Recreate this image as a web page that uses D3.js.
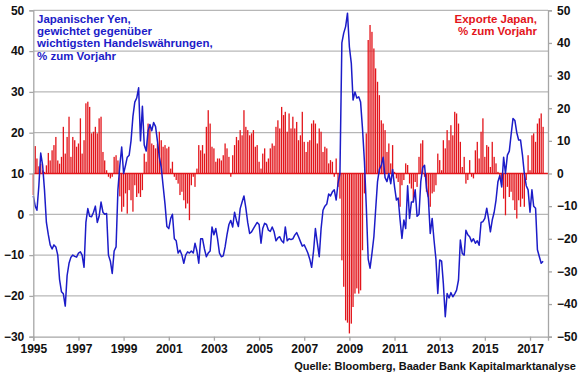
<!DOCTYPE html>
<html>
<head>
<meta charset="utf-8">
<script src="https://cdn.jsdelivr.net/npm/d3@7"></script>
<style>
  body { margin: 0; background: #fff; }
  text { font-family: "Liberation Sans", Arial, sans-serif; font-weight: bold; }
</style>
</head>
<body>
<script>
// first month of both series
var startYear = 1995;

// Japanese yen, trade weighted, % yoy (left axis), monthly
var yenYoY = [
  4.5, 2, 1, 7, 15, 12, 6, -2, -5, -7.5, -8.5, -7.5,
  -8, -10, -16, -19, -19.5, -22.5, -15, -12, -10.5, -10, -10.3, -10.5,
  -9.5, -9.2, -10, -13, -2, 1.4, -0.5, -0.6, 0.5, 2, -2, -0.5,
  3, 0.5, 0, 0.2, -10, -11.5, -14.5, -9, -8, 6, 12, 16.5,
  10, 12, 14, 14.5, 18, 24, 27.5, 28.5, 31, 18, 26.5, 17,
  15.5, 20.5, 22, 20.5, 22.5, 21.5, 18, 14, 11.5, 7, 2.5, -3,
  -3.5, -1, 0, -6, -6.5, -9.5, -8.8, -10, -12, -10, -9.2, -9.5,
  -9, -9.5, -7.1, -9, -12, -6, -6, -8.5, -10.4, -9.5, -9, -3.1,
  -5, -3.5, -6, -9.5, -10.4, -10.2, -8, -5, -2.5, -1.5, -3.1, 0.5,
  -1.5, -3, 1.4, 3, 4.5, 1.5, -2, -4.7, -4.3, -3.5, -2.7, -2,
  -2.5, -7.1, -3.5, -2.2, -2.5, -3.9, -4.2, -3.1, -4.3, -6.5, -5.8, -5.5,
  -6.5, -7, -3.1, -6.5, -6, -6.2, -6, -5.1, -4.5, -5.5, -6.7, -7.8,
  -7.5, -8.5, -9.5, -11, -13, -9, -3.5, -7, -10.4, -3.5, 1, 2,
  2.5, 5, 4.5, 5.5, 6, 3.5, 7.6, 10, 42, 44.4, 46, 49.3,
  41, 37, 28, 30, 28.5, 28.8, 27.5, 21, 13, 2, -11, -13.2,
  -9.6, -5.5, 1, 8, 11, 12, 14, 9, 8, 10, 7.5, 11,
  6.8, 3.5, 4, -1.4, -5.9, -1.4, -3.5, 7, -1, 3, 3, 6,
  -0.5, 0, 8, 11.5, 12, 6.5, 4, -4.7, -1, -6.3, -11, -19.4,
  -11.2, -11.5, -17, -25.1, -19.4, -20.5, -19.2, -20.2, -19.5, -18.6, -16.1, -6.3,
  -9.6, -10, -3.9, -5, -5.5, -6.7, -6, -7.1, -6.5, -7.6, -2, -1.8,
  -1, 1.5, -1, -4.3, -1.4, 0.5, 3.5, 8, 9.5, 6.7, 14, 10,
  14.5, 15.5, 19.5, 23.5, 23, 20, 18.2, 18.2, 14.5, 10, 7, 6,
  0.5, 6, 2, 1.5, -8.7, -10.4, -12, -11.5
];

// Japanese exports, % yoy (right axis), monthly
var exportsYoY = [
  -6.6, 8.4, 4.6, 2.2, 3, 1, 0.5, 2.5, 6.3, 4, 7.1, 8.7,
  11.2, 4, 3, 5.1, 14.3, 6.1, 11.2, 17.4, 5.1, 11.2, 10.2, 8.2,
  9.2, 16.9, 6.1, 10.2, 21.5, 22, 20.4, 12.3, 12.8, 14.3, 12.3, 16.9,
  17.4, 6.6, 4, 1, -1, -1.5, -1, 5.1, 5.6, 4, -7, -11.7,
  -10.2, -6.1, -12.3, -5.1, -8.2, -11.7, -3.6, -7.2, -6.1, -7.2, -5.1, 6.1,
  3.6, 15.3, 14.8, 9.2, 8.7, 7.7, 9.2, 12.8, 10.2, 8.2, 8.7, 7.7,
  8.2, 1.5, 3.6, -1, -2, -3.1, -6.6, -5.6, -8.2, -10.7, -9.2, -14.3,
  -3.6, -1, -4.1, 1.5, 8.7, 7.1, 8.7, 6.1, 14.3, 19.4, 15.3, 8.2,
  7.7, 3.6, 4.6, 4.6, 4, 5.6, 9.2, 7.7, 5.1, -1, 5.6, 8.7,
  11.2, 10.2, 13.3, 11.7, 19.4, 14.3, 13.3, 11.7, 12.3, 13.3, 8.2, 8.7,
  3.6, 1.5, 6.1, 7.7, 3.6, 4.6, 7.7, 9.2, 8.5, 14.3, 16.3, 13.8,
  20.4, 17.9, 18.9, 12.8, 18.4, 13.8, 17.4, 13.8, 15.8, 10.2, 11.7, 18.9,
  9.7, 6.6, 9.7, 10.2, 15.3, 16.3, 15.3, 9.2, 13.8, 12.8, 6.6, 8.2,
  7.7, 3.1, 4.1, 3.6, -1, 4.6, -4.1, -7.7, -26.6, -34.7, -45, -45.7,
  -49, -46, -40.9, -36.8, -35.2, -36.8, -35.8, -23.5, -6.1, 12.3, 40.9, 45.5,
  43.4, 38.3, 32.2, 28.1, 24, 16.3, 15.3, 13.3, 6.6, 9.2, 3.1, 8.7,
  0.5, -1.5, -2.6, -10.2, -3.6, -2, 3.1, 2.6, -3.1, -4.6, -8.7, -2.6,
  -4.1, 5.1, 9.2, 10.2, -1, -5.6, -7.2, -10.2, -6.1, -5.6, -3.6, 6.1,
  4.1, 1, 10.2, 7.7, 13.3, 10.2, 14.8, 11.7, 18.9, 18.4, 15.3, 9.7,
  2, 5.1, -3.1, -2, 4.1, -1, -1.5, 7.1, 9.7, 4.6, 12.8, 16.9,
  5.1, 8.7, 8.2, 2, 9.7, 5.1, 3.1, 0.5, -1.5, -3.6, -7.7, -12.8,
  -4.1, -7.2, -5.6, -8.2, -11.2, -13.8, -8.2, -10.2, -7.7, -10.2, -2, 5.6,
  1, 11.7, 12.3, 9.7, 15.3, 16.9, 18.4, 14.3
];

// tick labels
var yearTicks = [1995, 1997, 1999, 2001, 2003, 2005, 2007, 2009, 2011, 2013, 2015, 2017];
var leftTicks = [-30, -20, -10, 0, 10, 20, 30, 40, 50];
var rightTicks = [-50, -40, -30, -20, -10, 0, 10, 20, 30, 40, 50];

var titleYen = ["Japanischer Yen,", "gewichtet gegenüber", "wichtigsten Handelswährungen,", "% zum Vorjahr"];
var titleExp = ["Exporte Japan,", "% zum Vorjahr"];
var sourceTxt = "Quelle: Bloomberg, Baader Bank Kapitalmarktanalyse";

// set up SVG
var w = 580;
var h = 375;

// plot area
var pdL = 33.3;
var pdR = 32;
var pdT = 10.3;
var pdB = 38.3;

var colBlue = "#1c1cc8";
var colRed = "#e3151b";
var colGrid = "#a6a6a6";

// reshape data, one row per month
var dataset = [];
for (var i = 0; i < yenYoY.length; i++) {
    dataset.push({ date: new Date(startYear, i, 1), yen: yenYoY[i], exp: exportsYoY[i] });
}

// scales
var scaleX = d3.scaleTime()
               .domain([new Date(startYear, 0, 1), new Date(2017, 9, 19)])
               .range([pdL, w - pdR]);

var scaleYL = d3.scaleLinear()
                .domain([-30, 50])
                .range([h - pdB, pdT]);

var scaleYR = d3.scaleLinear()
                .domain([-50, 50])
                .range([h - pdB, pdT]);

var svg = d3.select("body")
            .append("svg")
            .attr("width", w)
            .attr("height", h);

// gridlines
svg.append("g")
   .selectAll("line")
   .data(leftTicks.slice(1))
   .enter()
   .append("line")
   .attr("x1", pdL)
   .attr("x2", w - pdR)
   .attr("y1", function(d) { return scaleYL(d); })
   .attr("y2", function(d) { return scaleYL(d); })
   .attr("stroke", colGrid)
   .attr("stroke-width", 1);

// export bars
var barW = 1.3;
svg.append("g")
   .selectAll("rect")
   .data(dataset)
   .enter()
   .append("rect")
   .attr("x", function(d) { return scaleX(d.date) - barW / 2; })
   .attr("y", function(d) { return scaleYR(Math.max(0, d.exp)); })
   .attr("width", barW)
   .attr("height", function(d) { return Math.abs(scaleYR(d.exp) - scaleYR(0)); })
   .attr("fill", colRed);

// zero line of the export axis
svg.append("line")
   .attr("x1", pdL)
   .attr("x2", w - pdR)
   .attr("y1", scaleYR(0))
   .attr("y2", scaleYR(0))
   .attr("stroke", colRed)
   .attr("stroke-width", 1.6);

// yen line
var line = d3.line()
             .x(function(d) { return scaleX(d.date); })
             .y(function(d) { return scaleYL(d.yen); });

svg.append("path")
   .datum(dataset)
   .attr("d", line)
   .attr("fill", "none")
   .attr("stroke", colBlue)
   .attr("stroke-width", 1.5)
   .attr("stroke-linejoin", "round");

// axes
var axisL = d3.axisLeft(scaleYL).tickValues(leftTicks).tickSize(4).tickPadding(5);
var axisR = d3.axisRight(scaleYR).tickValues(rightTicks).tickSize(4).tickPadding(5);
var axisX = d3.axisBottom(scaleX)
              .tickValues(yearTicks.map(function(y) { return new Date(y, 0, 1); }))
              .tickFormat(d3.timeFormat("%Y"))
              .tickSize(4)
              .tickPadding(4);

var styleAxis = function(g) {
    g.select(".domain").attr("stroke", colGrid).attr("stroke-width", 1.3);
    g.selectAll(".tick line").attr("stroke", colGrid).attr("stroke-width", 1.3);
    g.selectAll(".tick text")
     .attr("fill", "#111")
     .style("font-size", "12px");
    g.attr("font-family", null).attr("font-size", null);
};

svg.append("g")
   .attr("transform", "translate(" + pdL + ",0)")
   .call(axisL)
   .call(styleAxis);

svg.append("g")
   .attr("transform", "translate(" + (w - pdR) + ",0)")
   .call(axisR)
   .call(styleAxis);

svg.append("g")
   .attr("transform", "translate(0," + (h - pdB) + ")")
   .call(axisX)
   .call(styleAxis);

// titles
svg.append("g")
   .selectAll("text")
   .data(titleYen)
   .enter()
   .append("text")
   .text(function(d) { return d; })
   .attr("x", 37)
   .attr("y", function(d, i) { return 23 + i * 12.2; })
   .attr("fill", colBlue)
   .style("font-size", "11.5px");

svg.append("g")
   .selectAll("text")
   .data(titleExp)
   .enter()
   .append("text")
   .text(function(d) { return d; })
   .attr("x", 537)
   .attr("y", function(d, i) { return 23 + i * 12.2; })
   .attr("text-anchor", "end")
   .attr("fill", colRed)
   .style("font-size", "11.5px");

// source
svg.append("text")
   .text(sourceTxt)
   .attr("x", 576)
   .attr("y", 370)
   .attr("text-anchor", "end")
   .attr("fill", "#111")
   .style("font-size", "11px");
</script>
</body>
</html>
